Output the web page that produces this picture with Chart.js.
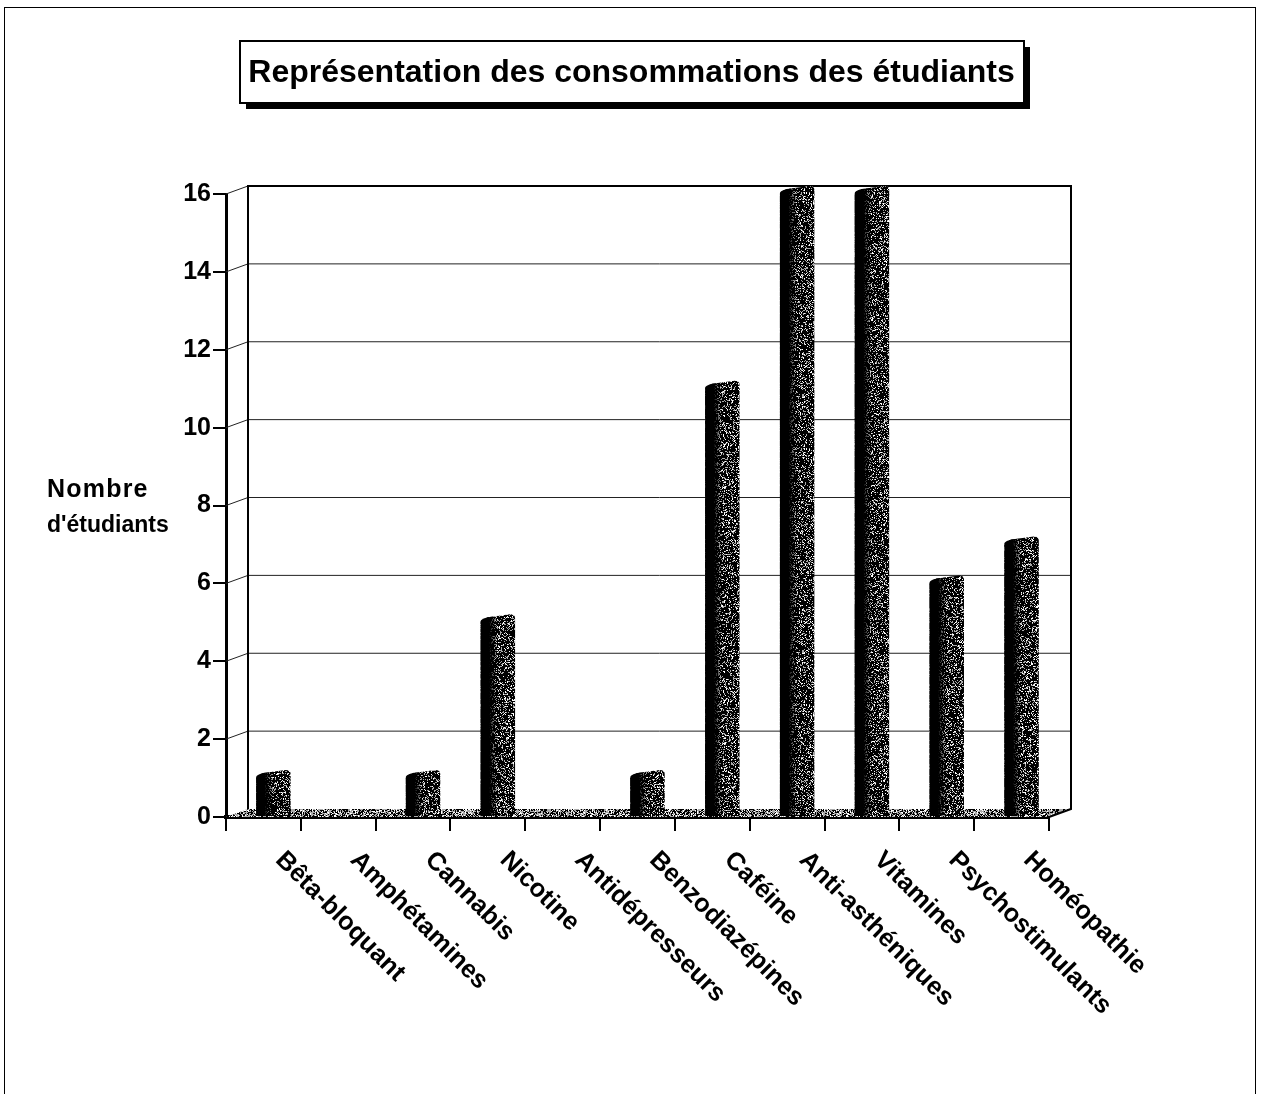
<!DOCTYPE html>
<html>
<head>
<meta charset="utf-8">
<title>Représentation des consommations des étudiants</title>
<script src="https://cdn.jsdelivr.net/npm/chart.js@4"></script>
<style>
  html, body { margin: 0; padding: 0; background: #fff; }
  canvas { display: block; }
</style>
</head>
<body>
<canvas id="myChart" width="1263" height="1094"></canvas>
<script>
var categories = ["Bêta-bloquant", "Amphétamines", "Cannabis", "Nicotine", "Antidépresseurs", "Benzodiazépines", "Caféine", "Anti-asthéniques", "Vitamines", "Psychostimulants", "Homéopathie"];
var students = [1, 0, 1, 5, 0, 1, 11, 16, 16, 6, 7];
var yTicks = [0, 2, 4, 6, 8, 10, 12, 14, 16];
var chartTitle = "Représentation des consommations des étudiants";
var yTitle = ["Nombre", "d'étudiants"];

var FONT = "Liberation Sans";
var DEPTH_X = 22;
var DEPTH_Y = 8;
var BAR_SHIFT = 10;

// photocopy grain, fixed seed so every run looks the same
function makeGrain(ctx, light, seed) {
  var c = document.createElement("canvas");
  c.width = 256;
  c.height = 256;
  var g = c.getContext("2d");
  g.fillStyle = "#000";
  g.fillRect(0, 0, 256, 256);
  for (var y = 0; y < 256; y++) {
    for (var x = 0; x < 256; x++) {
      seed ^= seed << 13;
      seed ^= seed >>> 17;
      seed ^= seed << 5;
      var r = (seed >>> 0) % 1000;
      if (r < light * 10) {
        g.fillStyle = r % 3 ? "#aaa" : "#fff";
        g.fillRect(x, y, 1, 1);
      }
    }
  }
  return ctx.createPattern(c, "repeat");
}

var ctx = document.getElementById("myChart").getContext("2d");
var barGrain = makeGrain(ctx, 28, 2463534242);
var floorGrain = makeGrain(ctx, 55, 88172645);

var scenery = {
  id: "scenery",
  afterLayout: function(chart) {
    // title is centred on the whole page, not on the padded area
    chart.titleBlock.left = 0;
    chart.titleBlock.right = chart.width;
  },
  beforeDraw: function(chart) {
    var c = chart.ctx;
    c.save();
    c.fillStyle = "#fff";
    c.fillRect(0, 0, chart.width, chart.height);
    // page frame
    c.strokeStyle = "#000";
    c.lineWidth = 1;
    c.strokeRect(4.5, 7.5, 1251, 1100);
    // title box with hard shadow
    c.fillStyle = "#000";
    c.fillRect(246, 47, 784, 62);
    c.fillStyle = "#fff";
    c.fillRect(240, 41, 784, 62);
    c.lineWidth = 2;
    c.strokeRect(240, 41, 784, 62);
    c.restore();
  },
  beforeDatasetsDraw: function(chart) {
    var c = chart.ctx;
    var a = chart.chartArea;
    var y = chart.scales.y;
    c.save();
    // floor
    c.fillStyle = floorGrain;
    c.beginPath();
    c.moveTo(a.left, a.bottom);
    c.lineTo(a.left + DEPTH_X, a.bottom - DEPTH_Y);
    c.lineTo(a.right + DEPTH_X, a.bottom - DEPTH_Y);
    c.lineTo(a.right, a.bottom);
    c.closePath();
    c.fill();
    // grid on the back wall
    c.strokeStyle = "#222";
    c.lineWidth = 1;
    for (var i = 1; i < yTicks.length; i++) {
      var py = y.getPixelForValue(yTicks[i]);
      c.beginPath();
      c.moveTo(a.left, py);
      c.lineTo(a.left + DEPTH_X, py - DEPTH_Y);
      c.lineTo(a.right + DEPTH_X, py - DEPTH_Y);
      c.stroke();
    }
    // wall edges
    c.strokeStyle = "#000";
    c.lineWidth = 2;
    c.beginPath();
    c.moveTo(a.left + DEPTH_X, a.bottom - DEPTH_Y);
    c.lineTo(a.left + DEPTH_X, a.top - DEPTH_Y);
    c.lineTo(a.right + DEPTH_X, a.top - DEPTH_Y);
    c.lineTo(a.right + DEPTH_X, a.bottom - DEPTH_Y);
    c.lineTo(a.right, a.bottom);
    c.stroke();
    c.restore();
    // bars stand in the middle of the floor depth
    c.save();
    c.translate(BAR_SHIFT, 0);
  },
  afterDatasetsDraw: function(chart) {
    var c = chart.ctx;
    var bars = chart.getDatasetMeta(0).data;
    for (var i = 0; i < bars.length; i++) {
      if (!students[i]) continue;
      var b = bars[i];
      var left = b.x - b.width / 2;
      var right = b.x + b.width / 2;
      // slanted rounded top
      c.fillStyle = barGrain;
      c.beginPath();
      c.moveTo(left, b.y + 1);
      c.quadraticCurveTo(left, b.y - 3, left + 7, b.y - 5);
      c.lineTo(right - 5, b.y - 8);
      c.quadraticCurveTo(right, b.y - 8, right, b.y - 4);
      c.lineTo(right, b.y + 1);
      c.closePath();
      c.fill();
      // dark left side of the cylinder
      var g = c.createLinearGradient(left, 0, right, 0);
      g.addColorStop(0, "rgba(0,0,0,1)");
      g.addColorStop(0.25, "rgba(0,0,0,1)");
      g.addColorStop(0.5, "rgba(0,0,0,0)");
      c.fillStyle = g;
      c.beginPath();
      c.moveTo(left, b.base);
      c.lineTo(left, b.y - 1);
      c.quadraticCurveTo(left, b.y - 3, left + 7, b.y - 5);
      c.lineTo(right, b.y - 8);
      c.lineTo(right, b.base);
      c.closePath();
      c.fill();
    }
    c.restore();
  },
  afterDraw: function(chart) {
    var c = chart.ctx;
    var x = chart.scales.x;
    c.save();
    c.fillStyle = "#000";
    // y title, horizontal and flush left
    c.textAlign = "left";
    c.textBaseline = "middle";
    c.font = "bold 25px '" + FONT + "'";
    c.letterSpacing = "1.2px";
    c.fillText(yTitle[0], 47, 490);
    c.font = "bold 23px '" + FONT + "'";
    c.letterSpacing = "0px";
    c.fillText(yTitle[1], 47, 526);
    // x labels run downwards to the right
    c.font = "bold 25.5px '" + FONT + "'";
    for (var i = 0; i < categories.length; i++) {
      c.save();
      c.translate(x.getPixelForTick(i) + 16, 856);
      c.rotate(Math.PI / 4);
      c.fillText(categories[i], 0, 0);
      c.restore();
    }
    c.restore();
  }
};

var chart = new Chart(ctx, {
  type: "bar",
  data: {
    labels: categories,
    datasets: [{
      label: "Nombre d'étudiants",
      data: students,
      backgroundColor: barGrain,
      borderWidth: 0,
      barPercentage: 0.46,
      categoryPercentage: 1
    }]
  },
  plugins: [scenery],
  options: {
    responsive: false,
    animation: false,
    layout: { padding: { left: 0, right: 214, top: 0, bottom: 0 } },
    plugins: {
      legend: { display: false },
      tooltip: { enabled: false },
      title: {
        display: true,
        text: chartTitle,
        color: "#000",
        font: { family: FONT, size: 32, weight: "bold", lineHeight: 1.2 },
        padding: { top: 54, bottom: 101.6 }
      }
    },
    scales: {
      x: {
        afterFit: function(s) { s.height = 277; },
        grid: { offset: true, drawOnChartArea: false, color: "#000", lineWidth: 2, tickLength: 14 },
        border: { display: true, color: "#000", width: 4 },
        ticks: { display: false }
      },
      y: {
        min: 0,
        max: 16,
        afterFit: function(s) { s.width = 226; },
        afterBuildTicks: function(s) {
          s.ticks = yTicks.map(function(v) { return { value: v }; });
        },
        grid: { drawOnChartArea: false, color: "#000", lineWidth: 2, tickLength: 13 },
        border: { display: true, color: "#000", width: 3 },
        ticks: {
          color: "#000",
          padding: 2,
          font: { family: FONT, size: 25, weight: "bold" }
        }
      }
    }
  }
});
</script>
</body>
</html>
